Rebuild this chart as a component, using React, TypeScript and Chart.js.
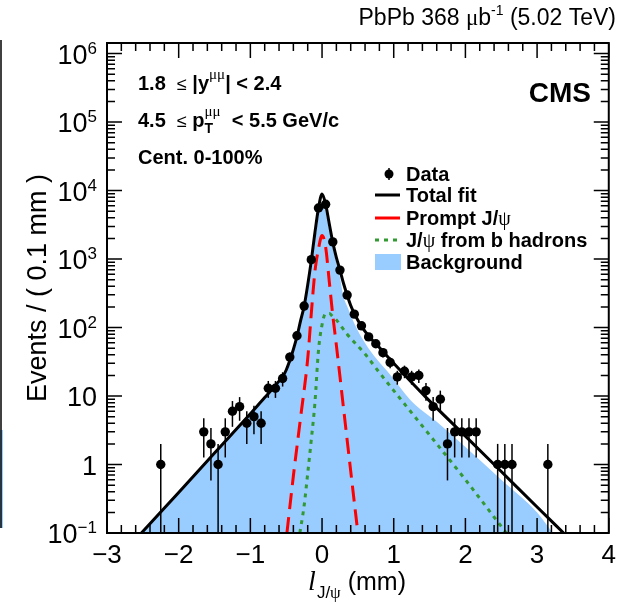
import React, { useEffect, useRef } from "react";
import { Chart, registerables } from "chart.js";

Chart.register(...registerables);

// ---------- data ----------
const dataX = [-2.25, -1.65, -1.55, -1.45, -1.35, -1.25, -1.15, -1.05, -0.95, -0.85, -0.75, -0.65, -0.55, -0.45, -0.35, -0.25, -0.15, -0.05, 0.05, 0.15, 0.25, 0.35, 0.45, 0.55, 0.65, 0.75, 0.85, 0.95, 1.05, 1.15, 1.25, 1.35, 1.45, 1.55, 1.65, 1.75, 1.85, 1.95, 2.05, 2.15, 2.45, 2.55, 2.65, 3.15];
const dataY = [1, 3, 2, 1, 3, 6, 7, 4, 5, 4, 13, 13, 18, 37, 76, 206, 980, 5560, 6300, 1780, 690, 298, 157, 106, 73, 58, 43, 31, 19, 23, 19, 20, 12, 7, 9, 2, 3, 3, 3, 3, 1, 1, 1, 1];

const totalX = [-2.52, -2.0, -1.5, -1.0, -0.8, -0.7, -0.6, -0.55, -0.5, -0.45, -0.4, -0.35, -0.3, -0.25, -0.2, -0.15, -0.1, -0.05, 0, 0.05, 0.1, 0.15, 0.2, 0.25, 0.3, 0.35, 0.4, 0.45, 0.5, 0.55, 0.6, 0.7, 0.8, 0.9, 1.0, 1.44, 2.0, 2.5, 3.0, 3.37];
const totalY = [0.1, 0.39, 1.47, 5.5, 9.5, 12.4, 16.5, 19, 24, 33, 48, 74, 125, 205, 420, 950, 2400, 5500, 8900, 6300, 3300, 1750, 1050, 690, 440, 298, 210, 161, 128, 105, 88, 66, 51, 39, 30, 9.8, 2.6, 0.79, 0.24, 0.1];

const promptX = [-0.49, -0.4, -0.3, -0.2, -0.15, -0.1, -0.05, 0, 0.05, 0.1, 0.15, 0.2, 0.3, 0.4, 0.5];
const promptY = [0.1, 0.68, 4.8, 35, 160, 650, 1400, 2200, 1500, 480, 150, 55, 6.6, 0.8, 0.1];

const nonPromptX = [-0.31, -0.25, -0.2, -0.15, -0.1, -0.05, 0, 0.05, 0.1, 0.15, 0.2, 0.35, 0.6, 0.8, 1.0, 1.5, 2.0, 2.57];
const nonPromptY = [0.1, 0.25, 0.74, 2.3, 7.8, 46, 110, 160, 160, 145, 129, 80, 41, 22, 12, 2.7, 0.6, 0.1];

const bkgX = [-2.52, -2.0, -1.5, -1.0, -0.8, -0.7, -0.6, -0.55, -0.5, -0.45, -0.4, -0.35, -0.3, -0.25, -0.2, -0.15, -0.1, -0.05, 0, 0.05, 0.1, 0.15, 0.2, 0.25, 0.3, 0.35, 0.43, 0.55, 0.73, 0.96, 1.235, 1.6, 2.0, 2.5, 3.0, 3.22];
const bkgY = [0.1, 0.39, 1.47, 5.5, 9.5, 12.4, 16.5, 19, 24, 33, 47, 72, 118, 190, 380, 780, 1750, 4100, 6700, 4800, 2650, 1450, 870, 540, 280, 205, 128, 72, 38, 20, 8.7, 4.2, 1.8, 0.6, 0.2, 0.1];

const xTickLabels = ["−3", "−2", "−1", "0", "1", "2", "3", "4"];
const yTickValues = [0.1, 1, 10, 100, 1000, 10000, 100000, 1000000];
const yTickBase = ["10", "1", "10", "10", "10", "10", "10", "10"];
const yTickExp = ["−1", "", "", "2", "3", "4", "5", "6"];

const legendLabels = ["Data", "Total fit", "Prompt J/", "J/", "Background"];

const X_MIN = -3;
const X_MAX = 4;
const Y_MIN = 0.1;
const Y_MAX = Math.pow(10, 6.155);

const SANS = '"Liberation Sans", Arial, Helvetica, sans-serif';
const SERIF = '"Liberation Serif", "DejaVu Serif", "Times New Roman", serif';

const C_BLUE = "#99ccff";
const C_RED = "#ff0000";
const C_GREEN = "#339933";

type Seg = { t: string; size: number; family?: string; weight?: string; style?: string; dy?: number; noAdvance?: boolean };

function fontOf(s: Seg) {
  return `${s.style || "normal"} ${s.weight || "normal"} ${s.size}px ${s.family || SANS}`;
}

function richWidth(ctx: CanvasRenderingContext2D, segs: Seg[]) {
  let w = 0;
  let held = 0;
  for (const s of segs) {
    ctx.font = fontOf(s);
    const m = ctx.measureText(s.t).width;
    if (s.noAdvance) { held = m; continue; }
    w += Math.max(m, held);
    held = 0;
  }
  return w;
}

function drawRich(ctx: CanvasRenderingContext2D, x: number, y: number, segs: Seg[], align: "left" | "right" | "center") {
  const w = richWidth(ctx, segs);
  let cx = align === "left" ? x : align === "right" ? x - w : x - w / 2;
  ctx.textAlign = "left";
  ctx.textBaseline = "alphabetic";
  let held = 0;
  for (const s of segs) {
    ctx.font = fontOf(s);
    ctx.fillText(s.t, cx, y + (s.dy || 0));
    const m = ctx.measureText(s.t).width;
    if (s.noAdvance) { held = m; continue; }
    cx += Math.max(m, held);
    held = 0;
  }
}

const pts = (xs: number[], ys: number[]) => xs.map((x, i) => ({ x, y: ys[i] }));

const errorBarPlugin = {
  id: "errorBars",
  beforeDatasetDraw(chart: any, args: any) {
    if (args.index !== 0) return;
    const { ctx, chartArea, scales } = chart;
    const xs = scales.x, ys = scales.y;
    ctx.save();
    ctx.strokeStyle = "#000";
    ctx.lineWidth = 1.5;
    dataX.forEach((xv, i) => {
      const v = dataY[i];
      const e = Math.sqrt(v);
      const px = xs.getPixelForValue(xv);
      const top = Math.max(ys.getPixelForValue(v + e), chartArea.top);
      const lo = v - e > 0 ? Math.min(ys.getPixelForValue(v - e), chartArea.bottom) : chartArea.bottom;
      ctx.beginPath();
      ctx.moveTo(px, top);
      ctx.lineTo(px, lo);
      ctx.stroke();
    });
    ctx.restore();
  },
};

const decorPlugin = {
  id: "decor",
  afterDraw(chart: any) {
    const { ctx, chartArea, scales } = chart;
    const xs = scales.x, ys = scales.y;
    const { left, right, top, bottom } = chartArea;
    ctx.save();

    // frame
    ctx.strokeStyle = "#000";
    ctx.lineWidth = 2;
    ctx.strokeRect(left, top, right - left, bottom - top);

    // x ticks (major every 1, minor every 0.2), bottom and top
    ctx.lineWidth = 1.5;
    const nx = Math.round((X_MAX - X_MIN) / 0.2);
    for (let i = 0; i <= nx; i++) {
      const v = X_MIN + i * 0.2;
      const px = xs.getPixelForValue(v);
      const len = i % 5 === 0 ? 15 : 8;
      ctx.beginPath();
      ctx.moveTo(px, bottom);
      ctx.lineTo(px, bottom - len);
      ctx.moveTo(px, top);
      ctx.lineTo(px, top + len);
      ctx.stroke();
    }
    // y ticks (log), left and right
    for (let e = -1; e <= 6; e++) {
      for (let k = 1; k <= 9; k++) {
        const v = k * Math.pow(10, e);
        if (v < Y_MIN || v > Y_MAX) continue;
        const py = ys.getPixelForValue(v);
        const len = k === 1 ? 15 : 8;
        ctx.beginPath();
        ctx.moveTo(left, py);
        ctx.lineTo(left + len, py);
        ctx.moveTo(right, py);
        ctx.lineTo(right - len, py);
        ctx.stroke();
      }
    }

    ctx.fillStyle = "#000";
    // y tick labels
    yTickValues.forEach((v, i) => {
      const py = ys.getPixelForValue(v);
      const segs: Seg[] = [{ t: yTickBase[i], size: 27 }];
      if (yTickExp[i]) segs.push({ t: yTickExp[i], size: 17, dy: -10 });
      drawRich(ctx, 97, py + 10, segs, "right");
    });

    // y title
    ctx.save();
    ctx.translate(46, 288);
    ctx.rotate(-Math.PI / 2);
    ctx.font = `27px ${SANS}`;
    ctx.textAlign = "center";
    ctx.textBaseline = "alphabetic";
    ctx.fillText("Events / ( 0.1 mm )", 0, 0);
    ctx.restore();

    // x title
    drawRich(ctx, 308, 590, [
      { t: "l", size: 28, family: SERIF, style: "italic" },
      { t: " ", size: 4 },
      { t: "J/", size: 17, dy: 8 },
      { t: "ψ", size: 17, family: SERIF, dy: 8 },
      { t: " (mm)", size: 25 },
    ], "left");

    // top-right lumi text
    drawRich(ctx, 616, 25, [
      { t: "PbPb 368 ", size: 23 },
      { t: "μ", size: 23, family: SERIF },
      { t: "b", size: 23 },
      { t: "-1", size: 14, dy: -10 },
      { t: " (5.02 TeV)", size: 23 },
    ], "right");

    // CMS
    ctx.font = `bold 28px ${SANS}`;
    ctx.textAlign = "right";
    ctx.fillText("CMS", 591, 102);

    // kinematic texts
    const B = "bold";
    drawRich(ctx, 138, 90, [
      { t: "1.8  ", size: 20, weight: B },
      { t: "≤", size: 18 },
      { t: " |y", size: 20, weight: B },
      { t: "μμ", size: 15, family: SERIF, dy: -11 },
      { t: "| < 2.4", size: 20, weight: B },
    ], "left");
    drawRich(ctx, 138, 127, [
      { t: "4.5  ", size: 20, weight: B },
      { t: "≤", size: 18 },
      { t: " p", size: 20, weight: B },
      { t: "T", size: 14, weight: B, dy: 6, noAdvance: true },
      { t: "μμ", size: 15, family: SERIF, dy: -11 },
      { t: "  < 5.5 GeV/c", size: 20, weight: B },
    ], "left");
    drawRich(ctx, 138, 164, [{ t: "Cent. 0-100%", size: 20, weight: B }], "left");

    // legend
    const lx0 = 375, lx1 = 400, tx = 406;
    const rows = [174, 195, 218, 240, 262];
    // data marker
    ctx.lineWidth = 1.5;
    ctx.beginPath();
    ctx.moveTo(389, rows[0] - 6);
    ctx.lineTo(389, rows[0] + 6);
    ctx.stroke();
    ctx.beginPath();
    ctx.arc(389, rows[0], 4.5, 0, Math.PI * 2);
    ctx.fill();
    // total
    ctx.lineWidth = 3;
    ctx.strokeStyle = "#000";
    ctx.beginPath(); ctx.moveTo(lx0, rows[1]); ctx.lineTo(lx1, rows[1]); ctx.stroke();
    ctx.strokeStyle = C_RED;
    ctx.beginPath(); ctx.moveTo(lx0, rows[2]); ctx.lineTo(lx1, rows[2]); ctx.stroke();
    ctx.strokeStyle = C_GREEN;
    ctx.setLineDash([4, 5]);
    ctx.beginPath(); ctx.moveTo(lx0, rows[3]); ctx.lineTo(lx1, rows[3]); ctx.stroke();
    ctx.setLineDash([]);
    ctx.fillStyle = C_BLUE;
    ctx.fillRect(lx0, rows[4] - 8, 26, 16);
    ctx.fillStyle = "#000";
    const LB = 7;
    drawRich(ctx, tx, rows[0] + LB, [{ t: legendLabels[0], size: 20, weight: B }], "left");
    drawRich(ctx, tx, rows[1] + LB, [{ t: legendLabels[1], size: 20, weight: B }], "left");
    drawRich(ctx, tx, rows[2] + LB, [
      { t: legendLabels[2], size: 20, weight: B },
      { t: "ψ", size: 20, family: SERIF },
    ], "left");
    drawRich(ctx, tx, rows[3] + LB, [
      { t: legendLabels[3], size: 20, weight: B },
      { t: "ψ", size: 20, family: SERIF },
      { t: " from b hadrons", size: 20, weight: B },
    ], "left");
    drawRich(ctx, tx, rows[4] + LB, [{ t: legendLabels[4], size: 20, weight: B }], "left");

    // neighbouring panel edge (cropped in the reference)
    ctx.fillStyle = C_BLUE;
    ctx.fillRect(0, 430, 3, 98);
    ctx.strokeStyle = "#000";
    ctx.lineWidth = 1.5;
    ctx.beginPath();
    ctx.moveTo(1, 40);
    ctx.lineTo(1, 528);
    ctx.stroke();

    ctx.restore();
  },
};

export default function App() {
  const ref = useRef<HTMLCanvasElement | null>(null);

  useEffect(() => {
    if (!ref.current) return;
    const chart = new Chart(ref.current, {
      type: "line",
      data: {
        datasets: [
          {
            label: "Data",
            type: "scatter",
            data: pts(dataX, dataY),
            showLine: false,
            pointRadius: 4.7,
            pointBackgroundColor: "#000",
            pointBorderWidth: 0,
            order: 0,
          } as any,
          {
            label: "Total fit",
            data: pts(totalX, totalY),
            borderColor: "#000",
            borderWidth: 3,
            pointRadius: 0,
            cubicInterpolationMode: "monotone",
            fill: false,
            order: 1,
          },
          {
            label: "J/ψ from b hadrons",
            data: pts(nonPromptX, nonPromptY),
            borderColor: C_GREEN,
            borderWidth: 3,
            borderDash: [4, 5],
            pointRadius: 0,
            cubicInterpolationMode: "monotone",
            fill: false,
            order: 2,
          },
          {
            label: "Prompt J/ψ",
            data: pts(promptX, promptY),
            borderColor: C_RED,
            borderWidth: 3,
            borderDash: [16, 8],
            pointRadius: 0,
            cubicInterpolationMode: "monotone",
            fill: false,
            order: 3,
          },
          {
            label: "Background",
            data: pts(bkgX, bkgY),
            borderWidth: 0,
            borderColor: C_BLUE,
            backgroundColor: C_BLUE,
            pointRadius: 0,
            cubicInterpolationMode: "monotone",
            fill: "start",
            order: 4,
          },
        ],
      },
      options: {
        animation: false,
        responsive: false,
        devicePixelRatio: 1,
        events: [],
        layout: { padding: { top: 43, right: 10, left: 0, bottom: 0 } },
        plugins: { legend: { display: false }, tooltip: { enabled: false } },
        scales: {
          x: {
            type: "linear",
            min: X_MIN,
            max: X_MAX,
            grid: { display: false, drawTicks: false },
            border: { display: false },
            ticks: {
              stepSize: 1,
              autoSkip: false,
              maxRotation: 0,
              padding: 7,
              color: "#000",
              font: { family: SANS, size: 26 },
              callback: (_v: any, i: number) => xTickLabels[i],
            },
            afterFit: (s: any) => { s.height = 71; },
          },
          y: {
            type: "logarithmic",
            min: Y_MIN,
            max: Y_MAX,
            grid: { display: false, drawTicks: false },
            border: { display: false },
            ticks: { display: false },
            afterFit: (s: any) => { s.width = 107; },
          },
        },
      },
      plugins: [errorBarPlugin, decorPlugin],
    });
    return () => chart.destroy();
  }, []);

  return (
    <div style={{ position: "absolute", left: 0, top: 0, width: 623, height: 604, background: "#fff" }}>
      <canvas ref={ref} width={623} height={604} style={{ display: "block", width: 623, height: 604 }} />
    </div>
  );
}
